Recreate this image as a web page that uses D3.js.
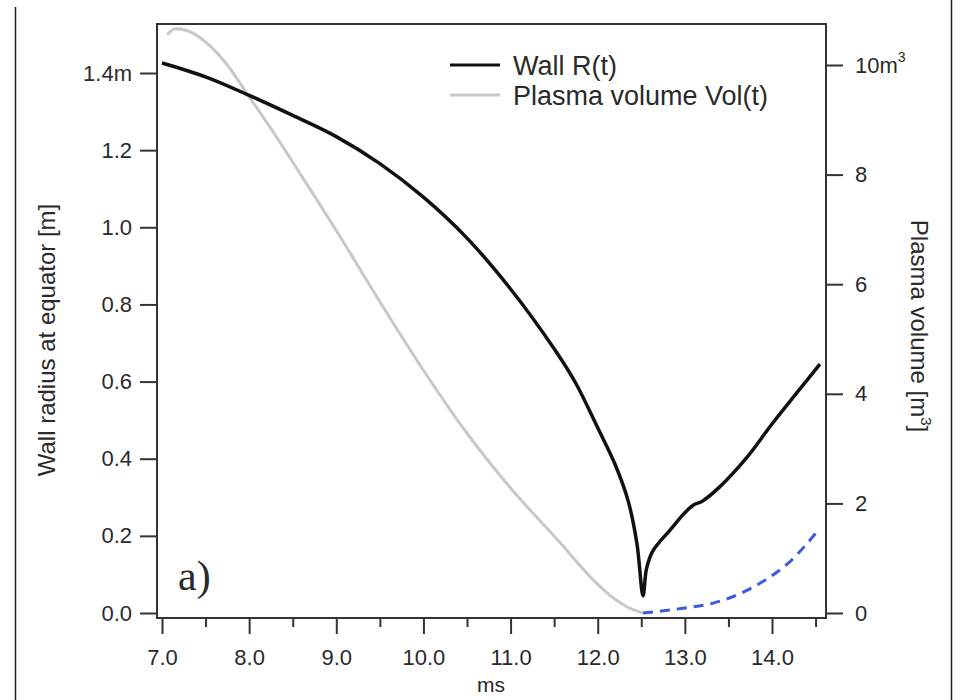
<!DOCTYPE html>
<html><head><meta charset="utf-8">
<script src="https://cdn.jsdelivr.net/npm/d3@7"></script>
<style>
html,body{margin:0;padding:0;background:#fff;}
svg text{font-family:"Liberation Sans",Arial,sans-serif;fill:#2a2a2a;}
</style></head>
<body><svg id="chart" width="962" height="700"></svg>
<script>
// Wall radius R(t) [m] vs time [ms]
const wallT = [7.0, 7.5, 8.0, 8.5, 9.0, 9.5, 10.0, 10.5, 11.0, 11.5, 11.75, 12.0, 12.2, 12.35, 12.45, 12.52, 12.56, 12.63, 12.83, 13.0, 13.1, 13.2, 13.4, 13.7, 14.0, 14.3, 14.55];
const wallR = [1.426, 1.390, 1.342, 1.290, 1.235, 1.165, 1.078, 0.972, 0.840, 0.685, 0.595, 0.480, 0.385, 0.290, 0.180, 0.045, 0.115, 0.160, 0.215, 0.260, 0.280, 0.290, 0.327, 0.400, 0.490, 0.575, 0.645];
// Plasma volume Vol(t) [m^3]
const volT = [7.06, 7.15, 7.3, 7.5, 7.75, 8.0, 8.3, 8.6, 9.0, 9.5, 10.0, 10.5, 11.0, 11.57, 11.95, 12.2, 12.34, 12.52];
const volV = [10.55, 10.66, 10.62, 10.42, 10.0, 9.42, 8.72, 7.98, 6.98, 5.68, 4.43, 3.28, 2.28, 1.28, 0.6, 0.25, 0.11, 0.0];
// Extrapolated volume (dashed blue)
const extT = [12.52, 12.8, 13.0, 13.3, 13.6, 13.9, 14.2, 14.55];
const extV = [0.0, 0.05, 0.09, 0.17, 0.33, 0.58, 0.93, 1.55];
// Ticks
const xTicks = [7, 8, 9, 10, 11, 12, 13, 14];
const xMinor = [7.5, 8.5, 9.5, 10.5, 11.5, 12.5, 13.5, 14.5];
const leftTicks = [0, 0.2, 0.4, 0.6, 0.8, 1.0, 1.2, 1.4];
const rightTicks = [0, 2, 4, 6, 8, 10];
const legendLabels = ["Wall R(t)", "Plasma volume Vol(t)"];

const svg = d3.select("#chart");
const L = 157, R = 826, T = 24, B = 618;

const x = d3.scaleLinear().domain([7, 14]).range([162, 772]);
x.domain([x.invert(L), x.invert(R)]).range([L, R]);
const yL = d3.scaleLinear().domain([0, 1.4]).range([613, 73]);
yL.domain([yL.invert(B), yL.invert(T)]).range([B, T]);
const yR = d3.scaleLinear().domain([0, 10]).range([613, 65]);
yR.domain([yR.invert(B), yR.invert(T)]).range([B, T]);

// outer frame lines
svg.append("line").attr("x1", 15.5).attr("x2", 15.5).attr("y1", 7).attr("y2", 700).attr("stroke", "#222").attr("stroke-width", 1.5);
svg.append("line").attr("x1", 951.5).attr("x2", 951.5).attr("y1", 0).attr("y2", 700).attr("stroke", "#222").attr("stroke-width", 1.5);

// plot box
svg.append("rect").attr("x", L).attr("y", T).attr("width", R - L).attr("height", B - T)
  .attr("fill", "none").attr("stroke", "#333").attr("stroke-width", 2);

const axisStyle = g => {
  g.select(".domain").remove();
  g.selectAll(".tick line").attr("stroke", "#333").attr("stroke-width", 2);
  g.selectAll(".tick text").attr("font-size", 22).attr("fill", "#2a2a2a")
    .style("font-family", '"Liberation Sans", Arial, sans-serif');
};

// x axis
svg.append("g").attr("transform", `translate(0,${B})`)
  .call(d3.axisBottom(x).tickValues(xTicks).tickFormat(d3.format(".1f")).tickSizeOuter(0).tickSize(16).tickPadding(15))
  .call(axisStyle);
svg.append("g").attr("transform", `translate(0,${B})`)
  .call(d3.axisBottom(x).tickValues(xMinor).tickFormat("").tickSizeOuter(0).tickSize(9))
  .call(axisStyle);

// left axis
svg.append("g").attr("transform", `translate(${L},0)`)
  .call(d3.axisLeft(yL).tickValues(leftTicks).tickFormat(d => d === 1.4 ? "1.4m" : d3.format(".1f")(d)).tickSizeOuter(0).tickSize(17).tickPadding(8))
  .call(axisStyle);

// right axis
const ra = svg.append("g").attr("transform", `translate(${R},0)`)
  .call(d3.axisRight(yR).tickValues(rightTicks).tickFormat(d => d === 10 ? "10m" : String(d)).tickSizeOuter(0).tickSize(17).tickPadding(12))
  .call(axisStyle);
ra.selectAll(".tick").filter(d => d === 10).select("text")
  .append("tspan").attr("dy", -11).attr("font-size", 14).text("3");

// lines
const mono = (xs, ys, yScale) => d3.line().x(d => x(d[0])).y(d => yScale(d[1])).curve(d3.curveMonotoneX)(d3.zip(xs, ys));

svg.append("path").attr("d", mono(volT, volV, yR)).attr("fill", "none").attr("stroke", "#c8c8c8").attr("stroke-width", 3);
svg.append("path").attr("d", mono(extT, extV, yR)).attr("fill", "none").attr("stroke", "#3a5ce0").attr("stroke-width", 3).attr("stroke-dasharray", "10,7");
svg.append("path").attr("d", d3.line().x(d => x(d[0])).y(d => yL(d[1])).curve(d3.curveCatmullRom.alpha(0.5))(d3.zip(wallT, wallR)))
  .attr("fill", "none").attr("stroke", "#111").attr("stroke-width", 3.5).attr("stroke-linejoin", "round");

// legend
const legColors = ["#111", "#c8c8c8"];
legendLabels.forEach((t, i) => {
  const yy = 65 + i * 30;
  svg.append("line").attr("x1", 450).attr("x2", 500).attr("y1", yy).attr("y2", yy).attr("stroke", legColors[i]).attr("stroke-width", 3);
  svg.append("text").attr("x", 513).attr("y", yy + 10).attr("font-size", 27).text(t);
});

// axis titles
svg.append("text").attr("x", 491).attr("y", 692).attr("text-anchor", "middle").attr("font-size", 21).text("ms");
svg.append("text").attr("transform", "translate(55,340) rotate(-90)").attr("text-anchor", "middle").attr("font-size", 24).text("Wall radius at equator [m]");
const rt = svg.append("text").attr("transform", "translate(911,326) rotate(90)").attr("text-anchor", "middle").attr("font-size", 24);
rt.append("tspan").text("Plasma volume [m");
rt.append("tspan").attr("dy", -10).attr("font-size", 15).text("3");
rt.append("tspan").attr("dy", 10).text("]");

// panel label
svg.append("text").attr("x", 178).attr("y", 590).attr("font-size", 42)
  .style("font-family", '"Liberation Serif", "Times New Roman", serif').attr("fill", "#222").text("a)");
</script></body></html>
